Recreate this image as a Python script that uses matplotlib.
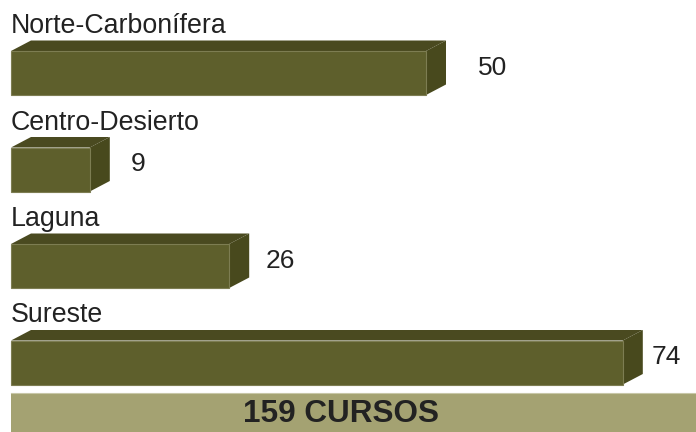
import matplotlib.pyplot as plt
from matplotlib.patches import Polygon, Rectangle

plt.rcParams['font.family'] = ['Liberation Sans', 'DejaVu Sans']

# datos
regiones = ['Norte-Carbonífera', 'Centro-Desierto', 'Laguna', 'Sureste']
cursos = [50, 9, 26, 74]
total_txt = '159 CURSOS'

# estilo / layout
c_frente = '#5e5f2c'
c_arriba = '#4a4a20'
c_lado = '#48491d'
c_borde = '#7d7d52'
c_banda = '#a4a272'
k = 8.2           # px por unidad
x0 = 16           # px del cero
x_ini = -5 / k    # los bares arrancan un poco antes del cero
x_fin = (696 - x0) / k
prof_x = 20 / k   # profundidad en unidades
prof_y = 10.5     # profundidad en px
alto = 44
y_top0 = 51
paso = 96.5
gap_num = [52, 41, 36, 29]

fig = plt.figure(figsize=(6.96, 4.32), dpi=100)
ax = fig.add_axes([0, 0, 1, 1])
ax.set_xlim(-x0 / k, x_fin)
ax.set_ylim(432, 0)
ax.axis('off')

for i, (reg, v) in enumerate(zip(regiones, cursos)):
    yt = y_top0 + i * paso
    yb = yt + alto
    # cara superior
    ax.add_patch(Polygon([(x_ini, yt), (x_ini + prof_x, yt - prof_y), (v + prof_x, yt - prof_y), (v, yt)],
                         closed=True, facecolor=c_arriba, edgecolor='none'))
    # cara lateral
    ax.add_patch(Polygon([(v, yt), (v + prof_x, yt - prof_y), (v + prof_x, yb - prof_y), (v, yb)],
                         closed=True, facecolor=c_lado, edgecolor='none'))
    # frente
    ax.add_patch(Rectangle((x_ini, yt), v - x_ini, alto, facecolor=c_frente,
                           edgecolor=c_borde, linewidth=0.8))
    ax.text(x_ini, yt - 18, reg, fontsize=19.3, color='#222222', ha='left', va='baseline')
    ax.text(v + gap_num[i] / k, (yt - prof_y + yb) / 2, str(v), fontsize=19,
            color='#222222', ha='left', va='center')

# banda total
ax.add_patch(Rectangle((x_ini, 393), x_fin - x_ini + 1, 40, facecolor=c_banda, edgecolor='none'))
ax.axhline(393, xmin=11 / 696, color='#c8c7a8', linewidth=0.8)
ax.text((341 - x0) / k, 414, total_txt, fontsize=22.7, fontweight='bold', color='#222222',
        ha='center', va='center')

fig.savefig('out.png', dpi=100)
